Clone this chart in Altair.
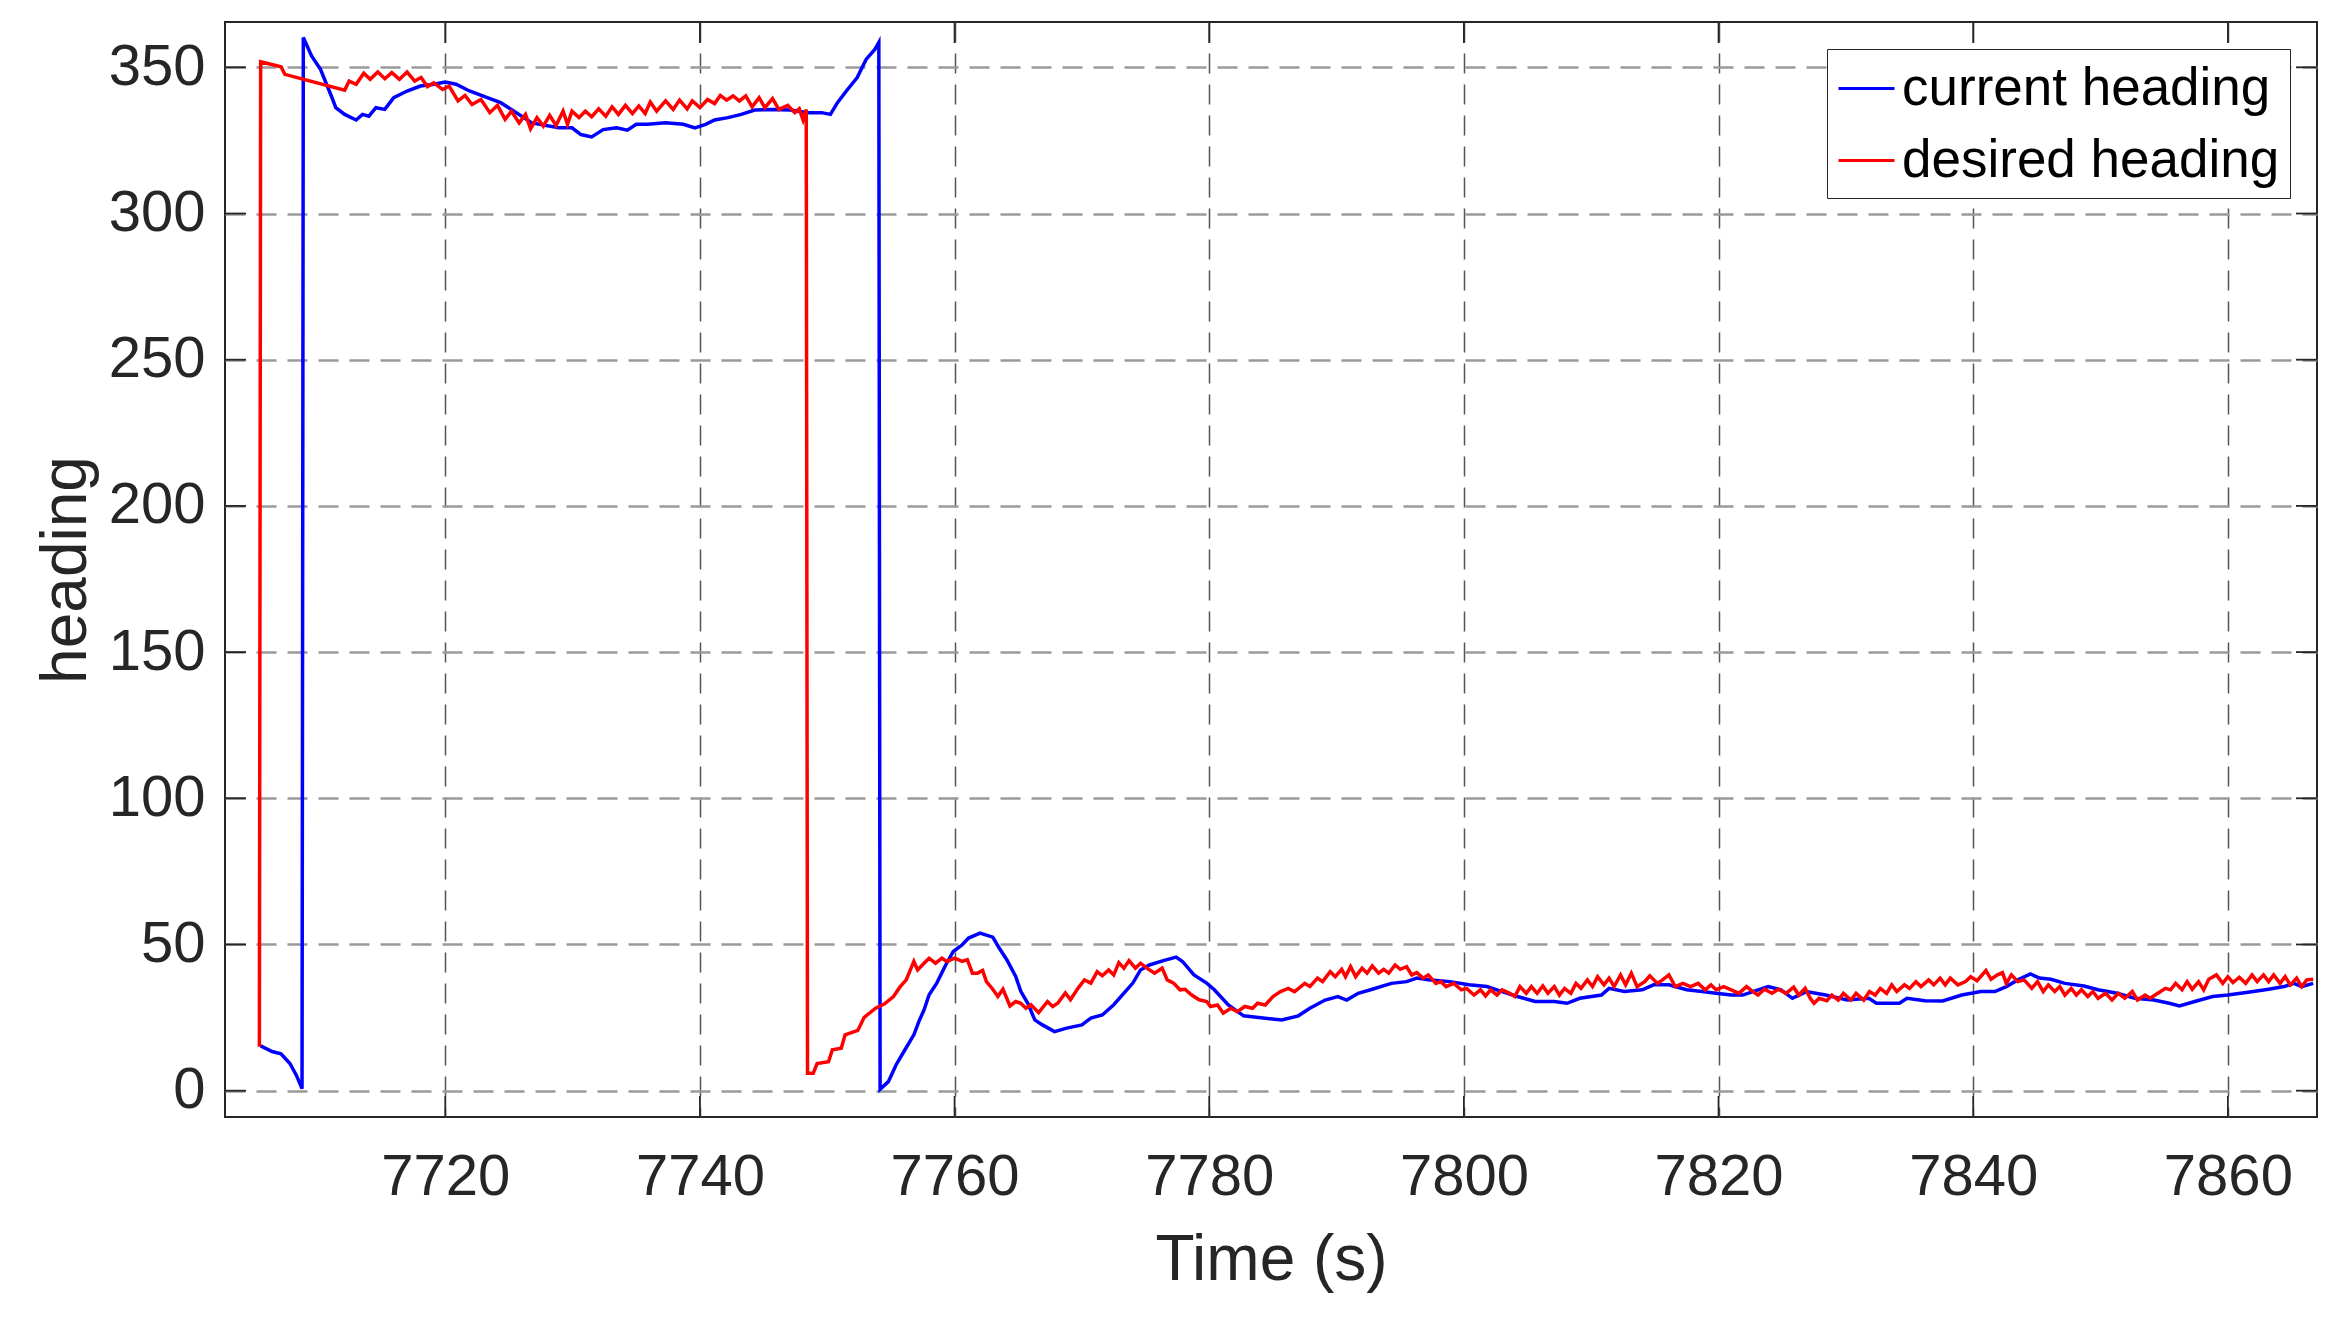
import altair as alt
import pandas as pd

series_names = ["current heading", "desired heading"]
series_colors = ["#0000ff", "#ff0000"]
x_ticks = [7720, 7740, 7760, 7780, 7800, 7820, 7840, 7860]
y_ticks = [0, 50, 100, 150, 200, 250, 300, 350]

current_t = [
    7705.5, 7706.4, 7707.1, 7707.8, 7708.3, 7708.75,
    7708.85, 7709.5, 7710.2, 7711.05, 7711.4, 7712.1, 7713.0, 7713.5, 7714.0, 7714.55,
    7715.25, 7715.95, 7717.0, 7718.05, 7719.1, 7720.0, 7720.85, 7721.9, 7723.3, 7724.35,
    7725.4, 7726.8, 7728.9, 7729.95, 7730.65, 7731.5, 7732.4, 7733.45, 7734.3, 7735.0,
    7735.9, 7737.3, 7738.7, 7739.6, 7740.45, 7741.15, 7742.2, 7743.25, 7744.3, 7745.7,
    7747.1, 7748.5, 7749.55, 7750.25, 7750.8, 7751.5, 7752.35, 7753.05, 7753.75, 7754.05,
    7754.15, 7754.8, 7755.4, 7756.1, 7756.8, 7757.2, 7757.6, 7758.0, 7758.6, 7759.3,
    7759.9, 7760.6, 7761.1, 7762.0, 7763.0, 7763.5, 7764.1, 7764.8, 7765.2, 7765.75,
    7766.3, 7766.9, 7767.85, 7768.8, 7770.0, 7770.7, 7771.6, 7772.5, 7773.3, 7774.0,
    7774.6, 7775.3, 7776.4, 7777.4, 7777.9, 7778.8, 7779.8,
    7780.4, 7781.5, 7782.7, 7784.4, 7785.7, 7787.0, 7787.9, 7789.1, 7790.1, 7790.8,
    7791.7, 7792.8, 7794.3, 7795.5, 7796.3, 7797.2, 7798.9, 7800.4, 7801.8, 7803.0,
    7804.2, 7805.6, 7807.1, 7808.1, 7809.1, 7810.8, 7811.4, 7812.6, 7814.0, 7814.9,
    7816.1, 7817.5, 7818.7, 7819.8, 7821.0, 7821.9, 7822.7,
    7823.9, 7824.9, 7825.8, 7826.9, 7828.4, 7830.1, 7831.8, 7832.4, 7834.2, 7834.8,
    7836.2, 7837.6, 7839.1, 7840.6, 7841.7, 7842.6, 7843.5, 7844.5, 7845.2, 7846.1,
    7847.2, 7848.7, 7849.8, 7851.3, 7852.7, 7854.2, 7855.4, 7856.2, 7857.4, 7858.8,
    7860.0, 7862.0, 7863.2, 7864.4, 7865.2, 7865.8, 7866.7,
]
current_v = [
    15.3, 13.4, 12.6, 9.3, 5.3, 0.7,
    360.2, 353.9, 349.3, 340.2, 336.2, 333.9, 332.0, 333.9, 333.3, 336.2,
    335.6, 339.6, 341.9, 343.6, 344.2, 345.0, 344.2, 341.9, 339.6, 337.9,
    335.0, 331.0, 329.3, 329.3, 327.0, 326.2, 328.7, 329.3, 328.5, 330.5,
    330.5, 331.0, 330.5, 329.3, 330.5, 332.0, 332.8, 333.9, 335.4, 335.6,
    335.4, 334.5, 334.5, 333.9, 337.9, 341.9, 346.5, 352.7, 356.2, 358.5,
    0.5, 3.1, 8.8, 14.0, 19.1, 23.7, 27.6, 32.8, 36.8, 43.0,
    47.6, 49.9, 52.2, 53.9, 52.5, 48.8, 44.8, 39.1, 34.0, 29.9,
    24.2, 22.5, 20.2, 21.4, 22.5, 24.8, 25.9, 29.4, 33.4, 36.8,
    41.3, 43.0, 44.5, 45.7, 44.2, 39.6, 36.8,
    34.5, 29.3, 25.6, 24.8, 24.2, 25.6, 28.2, 31.0, 32.2, 31.0,
    33.3, 34.7, 36.7, 37.3, 38.5, 37.9, 37.3, 36.2, 35.6, 33.9,
    32.2, 30.5, 30.5, 29.9, 31.6, 32.7, 35.0, 33.9, 34.5, 36.2,
    36.2, 34.5, 33.9, 33.3, 32.7, 32.7, 33.9,
    35.6, 34.5, 31.6, 33.9, 32.7, 31.0, 31.6, 29.9, 29.9, 31.6,
    30.8, 30.7, 32.7, 33.9, 33.9, 35.6, 37.9, 39.9, 38.5, 38.1,
    36.7, 35.8, 34.5, 33.3, 31.6, 31.0, 29.9, 29.0, 30.5, 32.2,
    32.7, 33.9, 34.7, 35.6, 36.7, 35.6, 36.7,
]

desired = [
    (7705.4, 15.0), (7705.5, 351.9), (7707.1, 350.2), (7707.4, 347.6), (7712.1, 342.2),
    (7712.45, 345.3), (7713.0, 344.2), (7713.6, 348.0), (7714.1, 345.9), (7714.7, 348.4),
    (7715.25, 346.1), (7715.8, 348.2), (7716.4, 345.9), (7717.0, 348.4), (7717.6, 345.3),
    (7718.1, 346.5), (7718.6, 343.4), (7719.1, 344.7), (7719.8, 342.4), (7720.3, 343.6),
    (7721.0, 338.5), (7721.55, 340.4), (7722.1, 337.3), (7722.8, 339.0), (7723.5, 334.5),
    (7724.1, 337.0), (7724.7, 332.2), (7725.2, 335.0), (7725.8, 331.0), (7726.3, 333.9),
    (7726.7, 329.0), (7727.2, 332.8), (7727.7, 329.9), (7728.2, 333.6), (7728.7, 330.1),
    (7729.25, 335.0), (7729.6, 330.5), (7729.95, 335.0), (7730.5, 332.8), (7731.0, 335.0),
    (7731.5, 333.1), (7732.05, 335.8), (7732.6, 333.3), (7733.1, 336.5), (7733.6, 333.9),
    (7734.15, 337.0), (7734.7, 334.2), (7735.2, 336.8), (7735.7, 334.2), (7736.1, 338.1),
    (7736.6, 335.0), (7737.3, 338.5), (7737.9, 335.6), (7738.4, 338.8), (7739.0, 335.8),
    (7739.4, 338.5), (7740.0, 336.2), (7740.6, 339.0), (7741.15, 337.6), (7741.6, 340.4),
    (7742.1, 338.8), (7742.6, 340.2), (7743.1, 338.5), (7743.6, 340.2), (7744.1, 336.5),
    (7744.65, 339.6), (7745.1, 336.2), (7745.7, 339.3), (7746.2, 335.6), (7746.9, 337.0),
    (7747.45, 334.5), (7747.8, 335.8), (7748.1, 332.0), (7748.35, 335.6),
    (7748.45, 6.0), (7748.9, 6.0), (7749.2, 9.3), (7750.1, 9.9), (7750.4, 14.0),
    (7751.1, 14.5), (7751.4, 19.1), (7752.4, 20.6), (7752.9, 25.1), (7753.8, 28.2),
    (7754.5, 29.7), (7755.2, 32.2), (7755.7, 35.4), (7756.2, 37.9), (7756.8, 44.2),
    (7757.1, 41.3), (7757.6, 43.6), (7758.0, 45.3), (7758.5, 43.6), (7759.0, 45.3),
    (7759.4, 44.2), (7760.0, 45.3), (7760.6, 44.2), (7761.0, 44.8), (7761.4, 40.2),
    (7761.8, 40.2), (7762.2, 41.1), (7762.5, 37.3), (7763.0, 34.7), (7763.4, 32.2),
    (7763.8, 34.7), (7764.35, 29.0), (7764.8, 30.5), (7765.2, 29.9), (7765.6, 28.2),
    (7766.0, 29.4), (7766.6, 26.7), (7767.3, 30.5), (7767.7, 28.8), (7768.1, 29.9),
    (7768.7, 33.4), (7769.1, 31.1), (7769.7, 35.1), (7770.2, 37.9), (7770.7, 36.8),
    (7771.2, 40.7), (7771.6, 39.3), (7772.1, 41.3), (7772.5, 39.6), (7772.9, 43.8),
    (7773.3, 41.9), (7773.7, 44.5), (7774.2, 41.9), (7774.6, 43.6), (7775.1, 41.9),
    (7775.7, 40.2), (7776.3, 41.9), (7776.7, 37.9), (7777.2, 36.8), (7777.7, 34.5),
    (7778.1, 34.7), (7778.6, 32.8), (7779.2, 31.1), (7779.8, 30.5),
    (7780.1, 28.8), (7780.65, 29.3), (7781.1, 26.5), (7781.7, 28.2), (7782.2, 27.0),
    (7782.8, 28.8), (7783.4, 28.2), (7783.8, 29.9), (7784.4, 29.3), (7785.0, 32.2),
    (7785.6, 33.9), (7786.2, 35.0), (7786.7, 33.9), (7787.5, 36.7), (7787.9, 35.6),
    (7788.5, 38.5), (7788.9, 37.3), (7789.5, 40.7), (7789.9, 39.0), (7790.4, 41.5),
    (7790.7, 39.0), (7791.1, 42.4), (7791.5, 39.0), (7792.0, 41.9), (7792.4, 40.2),
    (7792.8, 42.7), (7793.3, 40.2), (7793.7, 41.5), (7794.1, 40.2), (7794.6, 43.0),
    (7795.0, 41.5), (7795.5, 42.4), (7795.9, 39.6), (7796.3, 40.4), (7796.8, 38.5),
    (7797.2, 39.6), (7797.8, 36.7), (7798.2, 37.3), (7798.6, 35.6), (7799.2, 36.7),
    (7799.8, 34.5), (7800.2, 35.0), (7800.8, 32.7), (7801.3, 34.5), (7801.7, 32.4),
    (7802.1, 34.5), (7802.6, 32.7), (7803.0, 34.5), (7803.6, 33.3), (7804.0, 32.2),
    (7804.4, 35.6), (7804.9, 33.3), (7805.3, 35.6), (7805.75, 33.3), (7806.2, 35.8),
    (7806.6, 33.3), (7807.1, 35.6), (7807.5, 32.7), (7807.9, 35.0), (7808.4, 33.3),
    (7808.8, 36.7), (7809.2, 35.0), (7809.7, 37.9), (7810.1, 35.6), (7810.5, 39.0),
    (7811.0, 36.2), (7811.4, 38.5), (7811.8, 35.6), (7812.3, 39.6), (7812.7, 36.2),
    (7813.15, 40.2), (7813.6, 35.6), (7814.2, 37.3), (7814.6, 39.3), (7815.2, 36.7),
    (7815.6, 37.9), (7816.1, 39.6), (7816.6, 35.6), (7817.2, 36.7), (7817.8, 35.6),
    (7818.4, 36.7), (7818.95, 34.5), (7819.4, 36.2), (7819.8, 34.5), (7820.4, 35.6),
    (7821.0, 34.5), (7821.6, 33.3), (7822.2, 35.6), (7822.7, 33.9),
    (7823.1, 32.7), (7823.6, 34.7), (7824.2, 33.3), (7824.7, 34.7), (7825.3, 33.3),
    (7825.9, 35.4), (7826.3, 32.7), (7826.8, 35.0), (7827.2, 31.6), (7827.5, 29.9),
    (7827.9, 31.6), (7828.5, 30.8), (7828.9, 32.7), (7829.4, 31.0), (7829.8, 33.3),
    (7830.4, 31.0), (7830.8, 33.3), (7831.4, 31.0), (7831.85, 33.9), (7832.3, 32.7),
    (7832.7, 35.0), (7833.2, 33.3), (7833.6, 36.2), (7834.0, 33.9), (7834.6, 36.2),
    (7835.0, 35.0), (7835.5, 37.3), (7835.9, 35.6), (7836.5, 37.9), (7836.9, 36.2),
    (7837.4, 38.5), (7837.8, 36.2), (7838.2, 38.5), (7838.8, 36.2), (7839.4, 37.3),
    (7839.8, 39.0), (7840.3, 37.6), (7841.0, 41.1), (7841.4, 38.1), (7841.9, 39.6),
    (7842.3, 40.4), (7842.6, 36.7), (7843.0, 39.6), (7843.5, 37.3), (7844.0, 37.9),
    (7844.6, 35.0), (7845.05, 37.3), (7845.5, 33.9), (7845.9, 36.2), (7846.4, 33.9),
    (7846.8, 35.6), (7847.2, 32.7), (7847.7, 35.0), (7848.1, 32.7), (7848.5, 34.5),
    (7849.0, 32.2), (7849.4, 33.9), (7849.8, 31.6), (7850.4, 33.3), (7850.9, 31.0),
    (7851.4, 33.3), (7851.9, 31.6), (7852.5, 33.9), (7852.9, 31.0), (7853.5, 32.7),
    (7853.9, 31.6), (7854.5, 33.3), (7855.1, 35.0), (7855.5, 34.5), (7855.9, 36.7),
    (7856.4, 34.5), (7856.8, 37.3), (7857.2, 34.7), (7857.7, 37.3), (7858.1, 34.5),
    (7858.5, 38.1), (7859.1, 39.6), (7859.6, 36.7), (7860.0, 39.0), (7860.4, 37.0),
    (7860.9, 38.8), (7861.4, 36.7), (7861.9, 39.6), (7862.3, 37.3), (7862.8, 39.6),
    (7863.2, 37.3), (7863.6, 39.6), (7864.1, 36.7), (7864.5, 39.0), (7864.9, 36.2),
    (7865.4, 38.5), (7865.8, 35.6), (7866.2, 37.9), (7866.7, 38.1),
]

rows = [{"t": t, "v": v, "series": series_names[0]} for t, v in zip(current_t, current_v)]
rows += [{"t": t, "v": v, "series": series_names[1]} for t, v in desired]
df = pd.DataFrame(rows)

W, H = 2092, 1095
TICK = 21
DARK = "#262626"
FONT = "Liberation Sans"

xscale = alt.Scale(domain=[7702.7, 7867.0], nice=False, zero=False)
yscale = alt.Scale(domain=[-9.0, 365.5], nice=False, zero=False)

x_axis = alt.Axis(
    values=x_ticks, title="Time (s)", format="d",
    grid=True, gridDash=[20, 11], gridColor="#555555", gridWidth=1.5,
    ticks=False, tickSize=0, domain=False,
    labelFontSize=58, labelColor=DARK, labelFont=FONT, labelPadding=31,
    titleFontSize=64, titleFont=FONT, titleFontWeight="normal", titleColor=DARK,
    titlePadding=22)
y_axis = alt.Axis(
    values=y_ticks, title="heading", format="d",
    grid=True, gridDash=[20, 11], gridColor="#9a9a9a", gridWidth=2.5,
    ticks=False, tickSize=0, domain=False,
    labelFontSize=58, labelColor=DARK, labelFont=FONT, labelPadding=20,
    titleFontSize=64, titleFont=FONT, titleFontWeight="normal", titleColor=DARK,
    titlePadding=10)

lines = alt.Chart(df).mark_line(strokeWidth=3.5, clip=True).encode(
    x=alt.X("t:Q", scale=xscale, axis=x_axis, title="Time (s)"),
    y=alt.Y("v:Q", scale=yscale, axis=y_axis, title="heading"),
    color=alt.Color("series:N", scale=alt.Scale(domain=series_names, range=series_colors),
                    legend=alt.Legend(
                        title=None, orient="none", legendX=1602, legendY=27,
                        symbolType="stroke", symbolSize=3136, symbolStrokeWidth=3,
                        labelFontSize=53, labelFont=FONT, labelColor="#000000",
                        labelLimit=1000, labelOffset=6, rowPadding=15, padding=10,
                        strokeColor="#262626", fillColor="#ffffff")),
)

xt = pd.DataFrame({"t": x_ticks})
yt = pd.DataFrame({"v": y_ticks})
tick_style = dict(color=DARK, strokeWidth=1.8)

bottom_ticks = alt.Chart(xt).mark_rule(**tick_style).encode(
    x=alt.X("t:Q", scale=xscale, axis=x_axis, title="Time (s)"),
    y=alt.value(H), y2=alt.value(H - TICK))
top_ticks = alt.Chart(xt).mark_rule(**tick_style).encode(
    x=alt.X("t:Q", scale=xscale, axis=x_axis, title="Time (s)"),
    y=alt.value(0), y2=alt.value(TICK))
left_ticks = alt.Chart(yt).mark_rule(**tick_style).encode(
    y=alt.Y("v:Q", scale=yscale, axis=y_axis, title="heading"),
    x=alt.value(0), x2=alt.value(TICK))
right_ticks = alt.Chart(yt).mark_rule(**tick_style).encode(
    y=alt.Y("v:Q", scale=yscale, axis=y_axis, title="heading"),
    x=alt.value(W - TICK), x2=alt.value(W))

chart = alt.layer(lines, bottom_ticks, top_ticks, left_ticks, right_ticks).properties(
    width=W, height=H,
    autosize=alt.AutoSizeParams(type="none"),
    padding={"left": 217, "top": 14, "right": 22, "bottom": 193},
).configure(font=FONT).configure_view(
    stroke=DARK, strokeWidth=2
)

chart.save("out.html", embed_options={"renderer": "svg", "actions": False})
